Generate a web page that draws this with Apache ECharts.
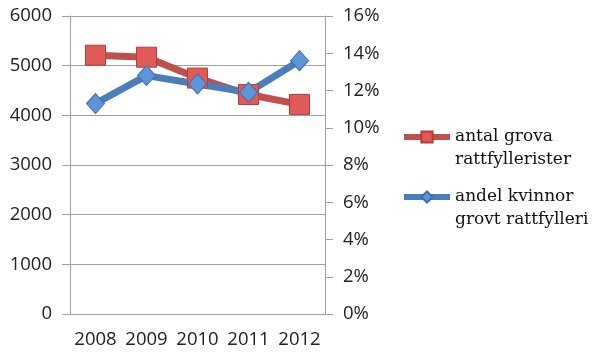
<!DOCTYPE html>
<html><head><meta charset="utf-8">
<script src="https://cdn.jsdelivr.net/npm/echarts@6/dist/echarts.min.js"></script>
<style>html,body{margin:0;padding:0;background:#fff}#c{width:600px;height:360px}</style>
</head><body><div id="c"></div>
<script>
const categories = ['2008','2009','2010','2011','2012'];
const antalGrova = [5210, 5170, 4750, 4420, 4220];
const andelKvinnor = [0.113, 0.128, 0.1235, 0.119, 0.136];
const seriesNames = ['antal grova\nrattfyllerister', 'andel kvinnor\ngrovt rattfylleri'];

const chart = echarts.init(document.getElementById('c'));
const axisFont = {fontFamily: 'Open Sans', fontSize: 18.5, color: '#222'};
function legendFor(name, top) {
  return {
    orient: 'vertical', left: 401, top: top, padding: 0,
    itemWidth: 46, itemHeight: 14,
    lineStyle: {width: 6},
    formatter: n => '\n' + n,
    textStyle: {fontFamily: "'DejaVu Serif', serif", fontSize: 17, color: '#111', lineHeight: 23},
    data: [name]
  };
}
chart.setOption({
  animation: false,
  grid: {left: 70, right: 275, top: 16, bottom: 46},
  legend: [legendFor(seriesNames[0], 102.5), legendFor(seriesNames[1], 162.5)],
  xAxis: {
    type: 'category', data: categories, boundaryGap: true,
    axisLine: {lineStyle: {color: '#a0a0a0', width: 1}},
    axisTick: {length: 6, lineStyle: {color: '#a0a0a0'}},
    axisLabel: Object.assign({margin: 16, interval: 0, hideOverlap: false}, axisFont)
  },
  yAxis: [{
    type: 'value', min: 0, max: 6000, interval: 1000,
    axisLine: {show: true, lineStyle: {color: '#a0a0a0'}},
    axisTick: {show: true, length: 8, lineStyle: {color: '#a0a0a0'}},
    splitLine: {lineStyle: {color: '#a0a0a0', width: 1}},
    axisLabel: Object.assign({margin: 18, formatter: v => String(v)}, axisFont)
  }, {
    type: 'value', min: 0, max: 0.16, interval: 0.02, position: 'right',
    axisLine: {show: true, lineStyle: {color: '#a0a0a0'}},
    axisTick: {show: true, length: 8, lineStyle: {color: '#a0a0a0'}},
    splitLine: {show: false},
    axisLabel: Object.assign({margin: 18, formatter: v => Math.round(v*100) + '%'}, axisFont)
  }],
  series: [{
    name: seriesNames[0], type: 'line', yAxisIndex: 0, data: antalGrova,
    symbol: 'rect', symbolSize: 20,
    lineStyle: {color: '#c0504d', width: 7},
    itemStyle: {color: '#e05a57', borderColor: '#b83c39', borderWidth: 1}
  }, {
    name: seriesNames[1], type: 'line', yAxisIndex: 1, data: andelKvinnor,
    symbol: 'diamond', symbolSize: [18, 20],
    lineStyle: {color: '#4a7ebb', width: 7},
    itemStyle: {color: '#5d95d8', borderColor: '#3f6fae', borderWidth: 1}
  }]
});
</script></body></html>
